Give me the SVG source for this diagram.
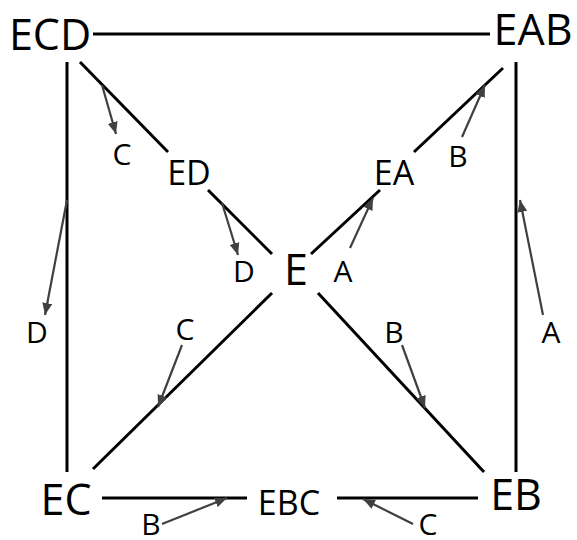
<svg xmlns="http://www.w3.org/2000/svg" width="577" height="540" viewBox="0 0 577 540">
<defs>
<style>
.n{font-family:"Open Sans","Liberation Sans",sans-serif;fill:#000;text-anchor:middle}
.big{font-size:43px}
.mid{font-size:34px}
.lab{font-family:"Open Sans","Liberation Sans",sans-serif;font-size:30px;fill:#000;text-anchor:middle}
.e{stroke:#000;stroke-width:3;fill:none}
.a{stroke:#404040;stroke-width:2.2;fill:none;marker-end:url(#ah)}
</style>
<marker id="ah" viewBox="0 0 12 10" refX="12" refY="5" markerWidth="12" markerHeight="10" markerUnits="userSpaceOnUse" orient="auto">
<path d="M0,0 L12,5 L0,10 z" fill="#404040"/>
</marker>
</defs>
<rect width="577" height="540" fill="#fff"/>
<g id="connectors">
<line class="e" x1="93" y1="34" x2="490" y2="34"/>
<line class="e" x1="67" y1="62" x2="67" y2="472"/>
<line class="e" x1="516" y1="62" x2="516" y2="472"/>
<line class="e" x1="80" y1="62" x2="168" y2="152"/>
<line class="e" x1="208" y1="190" x2="272" y2="254"/>
<line class="e" x1="311" y1="254" x2="380" y2="190"/>
<line class="e" x1="414" y1="152" x2="503" y2="68"/>
<line class="e" x1="272" y1="293" x2="93" y2="469"/>
<line class="e" x1="318" y1="293" x2="484" y2="472"/>
<line class="e" x1="102" y1="498" x2="247" y2="498"/>
<line class="e" x1="337" y1="498" x2="478" y2="498"/>
<line class="a" x1="102" y1="85" x2="116" y2="134"/>
<line class="a" x1="462" y1="137" x2="485" y2="85"/>
<line class="a" x1="222" y1="203" x2="238" y2="255"/>
<line class="a" x1="350" y1="248" x2="373" y2="198"/>
<line class="a" x1="67" y1="200" x2="45" y2="315"/>
<line class="a" x1="182" y1="345" x2="158" y2="407"/>
<line class="a" x1="543" y1="315" x2="520" y2="200"/>
<line class="a" x1="402" y1="345" x2="425" y2="408"/>
<line class="a" x1="162" y1="524" x2="227" y2="498"/>
<line class="a" x1="413" y1="524" x2="363" y2="499"/>
</g>
<g id="ECD"><text class="n big" x="50" y="50">ECD</text></g>
<g id="EAB"><text class="n big" x="533" y="45">EAB</text></g>
<g id="EC"><text class="n big" x="66" y="515">EC</text></g>
<g id="EB"><text class="n big" x="516" y="510">EB</text></g>
<g id="E"><text class="n big" x="296" y="285">E</text></g>
<g id="ED"><text class="n mid" x="189" y="185">ED</text></g>
<g id="EA"><text class="n mid" x="394" y="185">EA</text></g>
<g id="EBC"><text class="n mid" x="289" y="515">EBC</text></g>
<g id="labels">
<text class="lab" x="122" y="165">C</text>
<text class="lab" x="458" y="167">B</text>
<text class="lab" x="244" y="282">D</text>
<text class="lab" x="343" y="282">A</text>
<text class="lab" x="37" y="343">D</text>
<text class="lab" x="185" y="340">C</text>
<text class="lab" x="551" y="343">A</text>
<text class="lab" x="394" y="343">B</text>
<text class="lab" x="151" y="535">B</text>
<text class="lab" x="428" y="535">C</text>
</g>
</svg>
